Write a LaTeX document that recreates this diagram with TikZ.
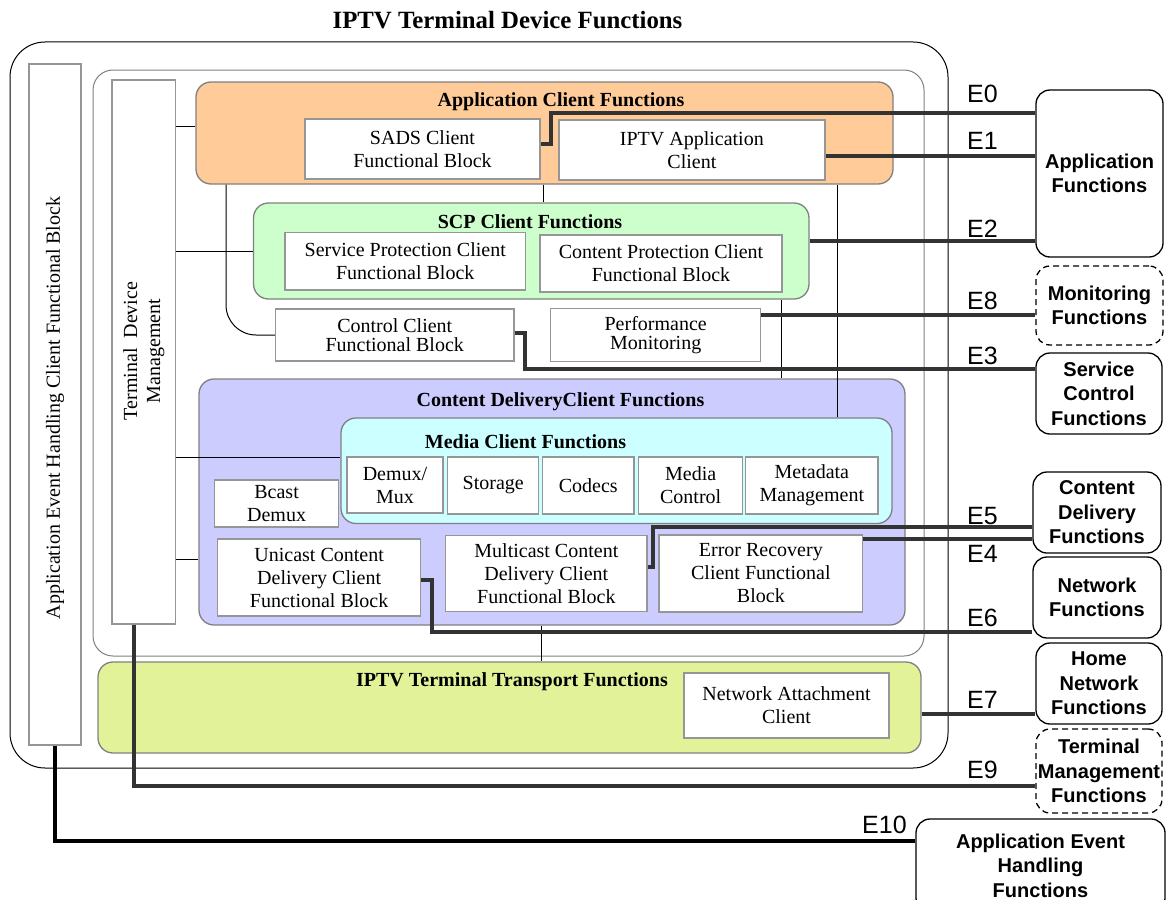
\documentclass[tikz,border=0pt]{standalone}
\usepackage{fontspec}
\setmainfont{Liberation Serif}
\newfontfamily\arialf{Liberation Sans}
\usetikzlibrary{calc}
\definecolor{appc}{RGB}{255,204,153}
\definecolor{scpc}{RGB}{204,255,204}
\definecolor{cdcc}{RGB}{204,204,255}
\definecolor{medc}{RGB}{204,255,255}
\definecolor{trc}{RGB}{226,242,152}
\definecolor{bgray}{RGB}{128,128,128}
\definecolor{wgray}{RGB}{150,150,150}
\definecolor{conc}{RGB}{51,51,51}
\begin{document}
\begin{tikzpicture}[x=1pt,y=-1pt,
  txt/.style={font=\fontsize{20}{23}\selectfont, align=center},
  wbox/.style={txt, draw=wgray, line width=1.3pt, fill=white, inner sep=0pt},
  cbox/.style={draw=bgray, line width=1.3pt, rounded corners=15pt, inner sep=0pt},
  ttl/.style={font=\bfseries\fontsize{20}{23}\selectfont, anchor=base, inner sep=0pt},
  fbox/.style={draw=black, line width=1.3pt, rounded corners=14pt, inner sep=0pt, align=center, font=\arialf\bfseries\fontsize{20}{24.5}\selectfont},
  dbox/.style={fbox, dash pattern=on 6pt off 4pt},
  elab/.style={font=\arialf\fontsize{25}{25}\selectfont, anchor=base west, inner sep=0pt},
  conn/.style={draw=conc, line width=3.1pt},
  tline/.style={draw=black, line width=1pt},
]
\useasboundingbox (0,0) rectangle (1166,899);
\clip (0,0) rectangle (1166,899);

% title
\node[font=\bfseries\fontsize{24.8}{28}\selectfont, anchor=base, inner sep=0pt] (title) at (507.5,29) {IPTV Terminal Device Functions};

% containers
\node[draw=black, line width=1pt, rounded corners=35pt, minimum width=938, minimum height=726, inner sep=0pt] (outer) at (479,405) {};
\node[draw=bgray, line width=1pt, rounded corners=20pt, minimum width=831, minimum height=586, inner sep=0pt] (inner) at (508.5,363) {};

% left bars
\node[wbox, minimum width=52, minimum height=681] (aeh) at (55,404.5) {};
\node[txt, rotate=90, inner sep=0pt] (aehtxt) at (55,408) {Application Event Handling Client Functional Block};
\node[wbox, minimum width=63.5, minimum height=544] (tdm) at (143.75,352) {};
\node[txt, rotate=90, inner sep=0pt] (tdmtxt) at (143.75,351) {Terminal~ Device\\Management};

% coloured groups
\node[cbox, fill=appc, minimum width=697, minimum height=102] (appclient) at (544.5,133) {};
\node[ttl] (appclientt) at (561,106) {Application Client Functions};
\node[cbox, fill=scpc, minimum width=555.5, minimum height=96] (scp) at (531.25,251) {};
\node[ttl] (scpt) at (530,228) {SCP Client Functions};
\node[cbox, fill=cdcc, minimum width=706, minimum height=246] (cdc) at (552,502) {};
\node[ttl] (cdct) at (560.5,406) {Content DeliveryClient Functions};
\node[cbox, fill=medc, minimum width=551, minimum height=105.5] (media) at (616.5,470.75) {};
\node[ttl] (mediat) at (525.5,448) {Media Client Functions};
\node[cbox, fill=trc, minimum width=823, minimum height=91] (transport) at (509.5,707.5) {};
\node[ttl] (transportt) at (512,686) {IPTV Terminal Transport Functions};

% white blocks
\node[wbox, minimum width=235, minimum height=60] (sads) at (422.5,149) {SADS Client\\Functional Block};
\node[wbox, minimum width=266, minimum height=60] (iptvapp) at (691.85,150) {IPTV Application\\Client};
\node[wbox, minimum width=240.5, minimum height=57.3] (spcf) at (405.25,261.35) {Service Protection Client\\Functional Block};
\node[wbox, minimum width=242, minimum height=57] (cpcf) at (661,263.5) {Content Protection Client\\Functional Block};
\node[wbox, font=\fontsize{20}{19}\selectfont, minimum width=238.5, minimum height=52] (ctrl) at (394.75,335) {Control Client\\Functional Block};
\node[wbox, font=\fontsize{20}{19}\selectfont, minimum width=210, minimum height=53] (perf) at (655.7,335) {Performance\\Monitoring};
\node[wbox, minimum width=96, minimum height=56] (demux) at (395,485) {Demux/\\Mux};
\node[wbox, minimum width=91, minimum height=57] (storage) at (493.2,485.5) {Storage};
\node[wbox, minimum width=91.3, minimum height=57] (codecs) at (588.3,485.5) {Codecs};
\node[wbox, minimum width=104, minimum height=57] (mctrl) at (690.7,485.5) {Media\\Control};
\node[wbox, minimum width=132.3, minimum height=57] (meta) at (811.85,485.5) {Metadata\\Management};
\node[wbox, minimum width=124, minimum height=47] (bcast) at (276.6,503.5) {Bcast\\Demux};
\node[wbox, minimum width=203, minimum height=77] (ucast) at (319.15,577.5) {Unicast Content\\Delivery Client\\Functional Block};
\node[wbox, minimum width=201.3, minimum height=76] (mcast) at (546.35,573.7) {Multicast Content\\Delivery Client\\Functional Block};
\node[wbox, minimum width=203.7, minimum height=77] (errrec) at (760.85,573.5) {Error Recovery\\Client Functional\\Block};
\node[wbox, minimum width=205, minimum height=65] (nac) at (786.5,705.5) {Network Attachment\\Client};

% external functions
\node[fbox, minimum width=127, minimum height=167] (appf) at (1099.5,173.5) {Application\\Functions};
\node[dbox, minimum width=127, minimum height=79] (monf) at (1099.5,305.5) {Monitoring\\Functions};
\node[fbox, minimum width=126, minimum height=81] (scf) at (1099,393.5) {Service\\Control\\Functions};
\node[fbox, minimum width=128, minimum height=81] (cdf) at (1097,512.5) {Content\\Delivery\\Functions};
\node[fbox, minimum width=128, minimum height=81] (netf) at (1097,597.5) {Network\\Functions};
\node[fbox, minimum width=126, minimum height=81] (homef) at (1099,683.5) {Home\\Network\\Functions};
\node[dbox, minimum width=126, minimum height=84] (termf) at (1099,771) {Terminal\\Management\\Functions};
\node[fbox, minimum width=249, minimum height=93] (aehf) at (1040.5,865.5) {Application Event\\Handling\\Functions};

% thin internal links
\draw[tline] (tdm.east |- 0,126) -- (appclient.west |- 0,126);
\draw[tline] (tdm.east |- 0,251) -- (scp.west |- 0,251);
\draw[tline] (tdm.east |- 0,457) -- (media.west |- 0,457);
\draw[tline] (tdm.east |- 0,559) -- (cdc.west |- 0,559);
\draw[tline, rounded corners=30pt] (appclient.south -| 226,0) |- (ctrl.west);
\draw[tline] (appclient.south -| 543,0) -- (scp.north -| 543,0);
\draw[tline] (scp.south -| 781,0) -- (cdc.north -| 781,0);
\draw[tline] (appclient.south -| 837.5,0) -- (media.north -| 837.5,0);
\draw[tline] (cdc.south -| 541,0) -- (transport.north -| 541,0);

% reference points
\draw[conn] (sads.east |- 0,144) -- (551,144) -- (551,113) -- (appf.west |- 0,113);
\draw[conn] (iptvapp.east |- 0,156) -- (appf.west |- 0,156);
\draw[conn] (scp.east |- 0,241) -- (appf.west |- 0,241);
\draw[conn] (perf.east |- 0,315) -- (monf.west |- 0,315);
\draw[conn] (ctrl.east |- 0,333) -- (525,333) -- (525,369) -- (scf.west |- 0,369);
\draw[conn] (mcast.east |- 0,567) -- (653,567) -- (653,527) -- (cdf.west |- 0,527);
\draw[conn] (errrec.east |- 0,539) -- (cdf.west |- 0,539);
\draw[conn] (ucast.east |- 0,580) -- (432,580) -- (432,632) -- (netf.west |- 0,632);
\draw[conn] (transport.east |- 0,714) -- (homef.west |- 0,714);
\draw[conn] (tdm.south -| 134,0) -- (134,786) -- (termf.west |- 0,786);
\draw[conn, draw=black, line width=3.6pt] (aeh.south) -- (aeh.south |- 0,841) -- (aehf.west |- 0,841);

% labels
\node[elab] (e0) at (967,102) {E0};
\node[elab] (e1) at (967,149) {E1};
\node[elab] (e2) at (967,237) {E2};
\node[elab] (e8) at (967,309) {E8};
\node[elab] (e3) at (967,364) {E3};
\node[elab] (e5) at (967,524) {E5};
\node[elab] (e4) at (967,562) {E4};
\node[elab] (e6) at (967,626) {E6};
\node[elab] (e7) at (967,708) {E7};
\node[elab] (e9) at (967,778) {E9};
\node[elab] (e10) at (862,833) {E10};
\end{tikzpicture}
\end{document}
